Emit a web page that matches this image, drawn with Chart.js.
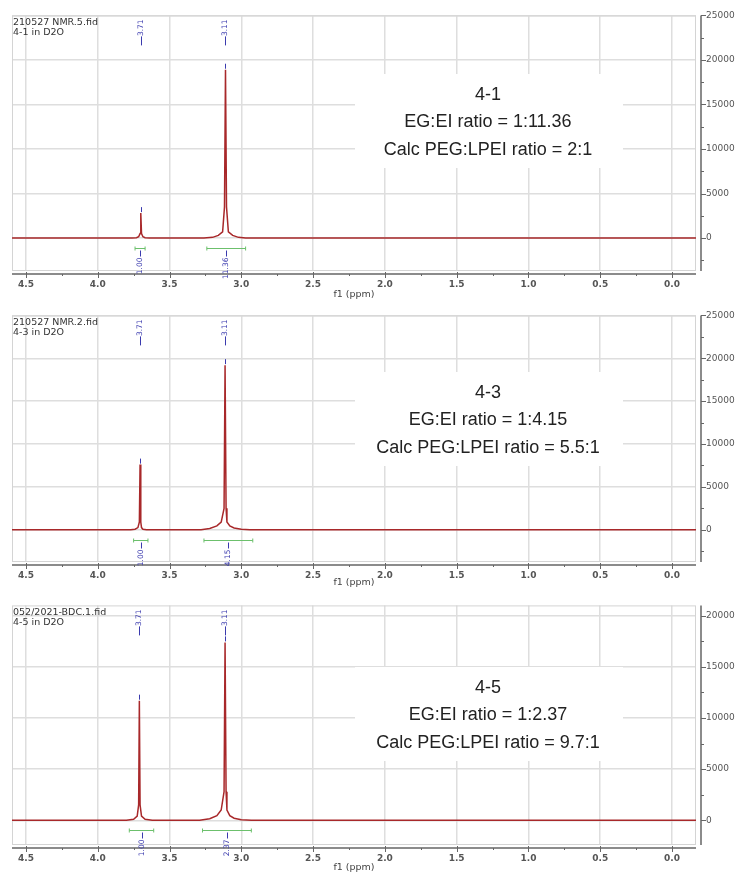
<!DOCTYPE html>
<html>
<head>
<meta charset="utf-8">
<script src="https://cdn.jsdelivr.net/npm/chart.js@4.4.1/dist/chart.umd.min.js"></script>
<style>
  html, body { margin: 0; padding: 0; background: #fff; }
  #wrap { position: relative; width: 743px; height: 875px; overflow: hidden; }
  canvas { position: absolute; left: 0; }
</style>
</head>
<body>
<div id="wrap">
  <canvas id="c1" width="743" height="300" style="top:0px"></canvas>
  <canvas id="c2" width="743" height="290" style="top:300px"></canvas>
  <canvas id="c3" width="743" height="285" style="top:590px"></canvas>
</div>
<script>
// x ticks (ppm), every 0.25, labels only every 0.5
const xTickVals = [0, 0.25, 0.5, 0.75, 1, 1.25, 1.5, 1.75, 2, 2.25, 2.5, 2.75, 3, 3.25, 3.5, 3.75, 4, 4.25, 4.5];
// y ticks (intensity), every 2500, labels only every 5000
const yTickVals = [-2500, 0, 2500, 5000, 7500, 10000, 12500, 15000, 17500, 20000, 22500, 25000];

// sample 4-1
const ppm41 = [4.6, 3.76, 3.73, 3.715, 3.705, 3.70, 3.695, 3.685, 3.67, 3.64, 3.26, 3.2, 3.16, 3.13, 3.117, 3.11, 3.103, 3.09, 3.06, 3.02, 2.97, -0.2];
const int41 = [0, 0, 40, 150, 500, 2800, 500, 150, 40, 0, 0, 80, 300, 700, 3500, 18900, 3500, 700, 300, 80, 0, 0];
const peaks41 = [3.70, 3.11];
const peakLabels41 = ["3.71", "3.11"];
const intRanges41 = [[3.74, 3.67], [3.24, 2.97]];
const intLabels41 = ["1.00", "11.36"];
const text41 = ["4-1", "EG:EI ratio = 1:11.36", "Calc PEG:LPEI ratio = 2:1"];

// sample 4-3
const ppm43 = [4.6, 3.77, 3.74, 3.72, 3.71, 3.705, 3.70, 3.695, 3.685, 3.66, 3.63, 3.28, 3.22, 3.17, 3.14, 3.12, 3.113, 3.106, 3.10, 3.08, 3.05, 3.0, 2.94, -0.2];
const int43 = [0, 0, 60, 250, 900, 7600, 900, 250, 60, 0, 0, 0, 150, 450, 900, 2500, 19200, 2500, 900, 450, 200, 60, 0, 0];
const peaks43 = [3.705, 3.113];
const peakLabels43 = ["3.71", "3.11"];
const intRanges43 = [[3.75, 3.65], [3.26, 2.92]];
const intLabels43 = ["1.00", "4.15"];
const text43 = ["4-3", "EG:EI ratio = 1:4.15", "Calc PEG:LPEI ratio = 5.5:1"];

// sample 4-5
const ppm45 = [4.6, 3.80, 3.75, 3.725, 3.715, 3.71, 3.705, 3.695, 3.67, 3.62, 3.29, 3.22, 3.17, 3.14, 3.12, 3.113, 3.106, 3.10, 3.08, 3.05, 3.0, 2.93, -0.2];
const int45 = [0, 0, 100, 400, 1500, 11700, 1500, 400, 100, 0, 0, 150, 450, 1000, 2800, 17400, 2800, 1000, 450, 200, 60, 0, 0];
const peaks45 = [3.71, 3.113];
const peakLabels45 = ["3.71", "3.11"];
const intRanges45 = [[3.78, 3.61], [3.27, 2.93]];
const intLabels45 = ["1.00", "2.37"];
const text45 = ["4-5", "EG:EI ratio = 1:2.37", "Calc PEG:LPEI ratio = 9.7:1"];

const gridCol = "#dedede";
const axisCol = "#666";
const lineCol = "#a8282a";
const blue = "#3a3aae";
const green = "#6cc06c";

function isHalf(v) {
  return Math.abs(v * 2 - Math.round(v * 2)) < 1e-6;
}

const nmrPlugin = {
  id: "nmr",
  beforeDatasetsDraw(chart) {
    const o = chart.options.plugins.nmr;
    const { ctx, chartArea: a } = chart;
    ctx.save();
    // white box behind the ratio text
    ctx.fillStyle = "#fff";
    ctx.fillRect(355, o.boxTop, 268, 94);
    ctx.fillStyle = "#222";
    ctx.font = "18px 'Liberation Sans', Arial, sans-serif";
    ctx.textAlign = "center";
    ctx.textBaseline = "middle";
    o.text.forEach((t, i) => ctx.fillText(t, 488, o.boxTop + 21 + i * 27.5));
    // frame
    ctx.strokeStyle = "#d4d4d4";
    ctx.lineWidth = 1;
    ctx.strokeRect(a.left + 0.5, a.top + 0.5, a.right - a.left - 1, a.bottom - a.top - 1);
    // file name
    ctx.fillStyle = "#333";
    ctx.font = "9.5px 'DejaVu Sans', sans-serif";
    ctx.textAlign = "left";
    ctx.textBaseline = "alphabetic";
    ctx.fillText(o.file, a.left + 1, a.top + 10);
    ctx.fillText(o.sample, a.left + 1, a.top + 20);
    ctx.restore();
  },
  afterDatasetsDraw(chart) {
    const o = chart.options.plugins.nmr;
    const { ctx, chartArea: a, scales } = chart;
    const xs = scales.x, ys = scales.y;
    ctx.save();
    // axis lines with ticks
    const axY = a.bottom + 3;
    const axX = a.right + 5;
    ctx.strokeStyle = axisCol;
    ctx.lineWidth = 1.5;
    ctx.beginPath();
    ctx.moveTo(a.left, axY); ctx.lineTo(a.right, axY);
    ctx.moveTo(axX, a.top); ctx.lineTo(axX, a.bottom);
    ctx.stroke();
    ctx.lineWidth = 1;
    ctx.beginPath();
    xTickVals.forEach(v => {
      const px = Math.round(xs.getPixelForValue(v)) + 0.5;
      if (isHalf(v)) { ctx.moveTo(px, axY - 2); ctx.lineTo(px, axY + 4); }
      else { ctx.moveTo(px, axY); ctx.lineTo(px, axY + 2); }
    });
    ys.ticks.forEach(t => {
      const py = Math.round(ys.getPixelForValue(t.value)) + 0.5;
      ctx.moveTo(axX, py);
      ctx.lineTo(axX + (t.value % 5000 === 0 ? 5 : 3), py);
    });
    ctx.stroke();
    // f1 label
    ctx.fillStyle = "#444";
    ctx.font = "9.5px 'DejaVu Sans', sans-serif";
    ctx.textAlign = "center";
    ctx.textBaseline = "middle";
    ctx.fillText("f1 (ppm)", 354, o.f1Y);

    const y0 = ys.getPixelForValue(0);
    ctx.font = "7.5px 'DejaVu Sans', sans-serif";
    // peak picks
    o.peaks.forEach((p, i) => {
      const px = Math.round(xs.getPixelForValue(p)) + 0.5;
      const apex = ys.getPixelForValue(o.heights[i]);
      ctx.strokeStyle = blue;
      ctx.fillStyle = blue;
      ctx.beginPath();
      ctx.moveTo(px, a.top + 21); ctx.lineTo(px, a.top + 30);
      ctx.moveTo(px, apex - 6); ctx.lineTo(px, apex - 1);
      ctx.stroke();
      ctx.save();
      ctx.translate(px, a.top + 4);
      ctx.rotate(-Math.PI / 2);
      ctx.textAlign = "right";
      ctx.fillText(o.peakLabels[i], 0, 0);
      ctx.restore();
    });
    // integrals
    o.intRanges.forEach((r, i) => {
      const x1 = xs.getPixelForValue(r[0]);
      const x2 = xs.getPixelForValue(r[1]);
      const gy = Math.round(y0 + 10) + 0.5;
      ctx.strokeStyle = green;
      ctx.beginPath();
      ctx.moveTo(x1, gy); ctx.lineTo(x2, gy);
      ctx.moveTo(x1, gy - 2); ctx.lineTo(x1, gy + 2);
      ctx.moveTo(x2, gy - 2); ctx.lineTo(x2, gy + 2);
      ctx.stroke();
      const mx = Math.round((x1 + x2) / 2) + 0.5;
      ctx.strokeStyle = blue;
      ctx.fillStyle = blue;
      ctx.beginPath();
      ctx.moveTo(mx, gy + 2); ctx.lineTo(mx, gy + 8);
      ctx.stroke();
      ctx.save();
      ctx.translate(mx, gy + 9);
      ctx.rotate(-Math.PI / 2);
      ctx.textAlign = "right";
      ctx.fillText(o.intLabels[i], 0, 0);
      ctx.restore();
    });
    ctx.restore();
  }
};

function makePanel(id, ppm, vals, cfg) {
  const pts = ppm.map((x, i) => ({ x: x, y: vals[i] }));
  const heights = cfg.peaks.map(p => vals[ppm.indexOf(p)]);
  return new Chart(document.getElementById(id), {
    type: "line",
    data: {
      datasets: [{
        data: pts,
        borderColor: lineCol,
        borderWidth: 1.5,
        pointRadius: 0,
        tension: 0,
        fill: false
      }]
    },
    options: {
      responsive: false,
      animation: false,
      layout: { padding: { left: 12, top: cfg.padTop, right: 0, bottom: 0 } },
      plugins: {
        legend: { display: false },
        tooltip: { enabled: false },
        nmr: {
          file: cfg.file, sample: cfg.sample, text: cfg.text, boxTop: cfg.boxTop,
          f1Y: cfg.f1Y, peaks: cfg.peaks, heights: heights, peakLabels: cfg.peakLabels,
          intRanges: cfg.intRanges, intLabels: cfg.intLabels
        }
      },
      scales: {
        x: {
          type: "linear",
          reverse: true,
          min: -0.167,
          max: 4.597,
          border: { display: false },
          grid: {
            drawTicks: false,
            lineWidth: 1.5,
            color: c => (c.tick && isHalf(c.tick.value)) ? gridCol : "rgba(0,0,0,0)"
          },
          afterBuildTicks: s => { s.ticks = xTickVals.map(v => ({ value: v })); },
          afterFit: s => { s.height = cfg.xHeight; },
          ticks: {
            autoSkip: false,
            maxRotation: 0,
            padding: 8,
            color: "#555",
            font: { family: "'DejaVu Sans', sans-serif", size: 9, weight: "bold" },
            callback: v => isHalf(v) ? v.toFixed(1) : ""
          }
        },
        y: {
          position: "right",
          min: cfg.yMin,
          max: cfg.yMax,
          border: { display: false },
          grid: {
            drawTicks: false,
            lineWidth: 1.5,
            color: c => (c.tick && c.tick.value % 5000 === 0) ? gridCol : "rgba(0,0,0,0)"
          },
          afterBuildTicks: s => {
            s.ticks = yTickVals.filter(v => v >= cfg.yMin && v <= cfg.yMax).map(v => ({ value: v }));
          },
          afterFit: s => { s.width = 47; },
          ticks: {
            autoSkip: false,
            padding: 10,
            color: "#555",
            font: { family: "'DejaVu Sans', sans-serif", size: 9 },
            callback: v => (v % 5000 === 0) ? String(v) : ""
          }
        }
      }
    },
    plugins: [nmrPlugin]
  });
}

makePanel("c1", ppm41, int41, {
  padTop: 15, xHeight: 29, yMin: -3700, yMax: 25000, boxTop: 74, f1Y: 295,
  file: "210527 NMR.5.fid", sample: "4-1 in D2O", text: text41,
  peaks: peaks41, peakLabels: peakLabels41, intRanges: intRanges41, intLabels: intLabels41
});
makePanel("c2", ppm43, int43, {
  padTop: 2, xHeight: 28, yMin: -3760, yMax: 25000, boxTop: 72, f1Y: 283,
  file: "210527 NMR.2.fid", sample: "4-3 in D2O", text: text43,
  peaks: peaks43, peakLabels: peakLabels43, intRanges: intRanges43, intLabels: intLabels43
});
makePanel("c3", ppm45, int45, {
  padTop: 3, xHeight: 30, yMin: -2420, yMax: 21020, boxTop: 77, f1Y: 278,
  file: "052/2021-BDC.1.fid", sample: "4-5 in D2O", text: text45,
  peaks: peaks45, peakLabels: peakLabels45, intRanges: intRanges45, intLabels: intLabels45
});
</script>
</body>
</html>
